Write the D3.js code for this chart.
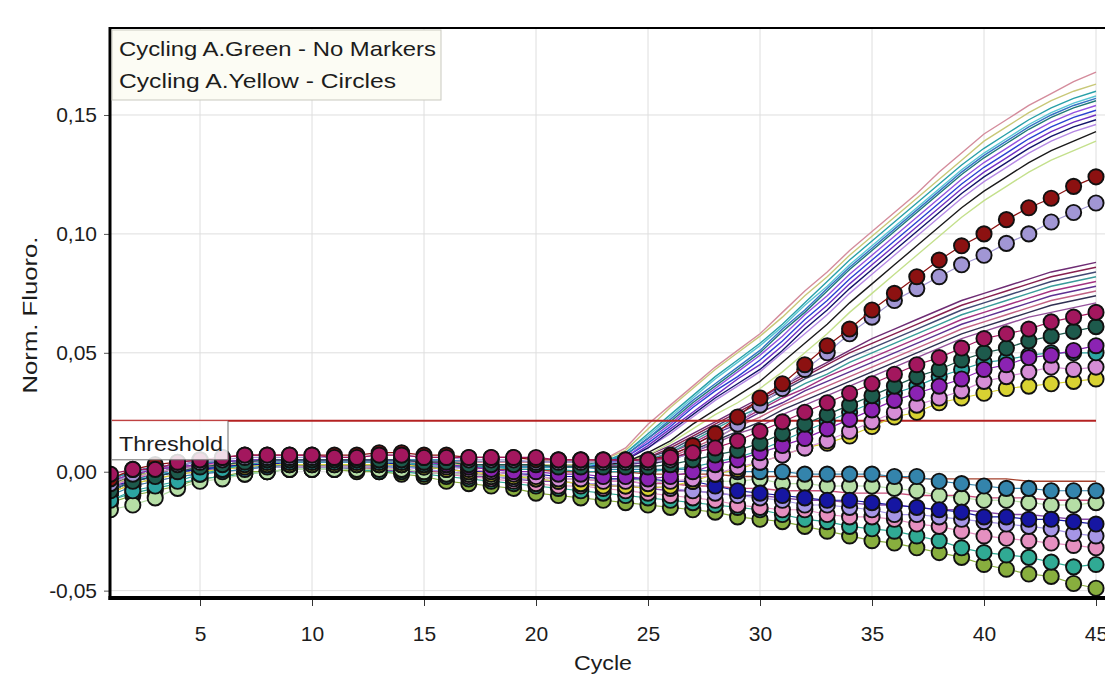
<!DOCTYPE html>
<html><head><meta charset="utf-8">
<script src="https://cdn.jsdelivr.net/npm/d3@7"></script>
<style>
body{margin:0;background:#fff}
svg{display:block}
text{font-family:"Liberation Sans",Arial,sans-serif;fill:#1c1c1c}
</style>
</head><body>
<svg id="chart" width="1105" height="674"></svg>
<script>
// ---------------- DATA ----------------
const cycles = [1,2,3,4,5,6,7,8,9,10,11,12,13,14,15,16,17,18,19,20,21,22,23,24,25,26,27,28,29,30,31,32,33,34,35,36,37,38,39,40,41,42,43,44,45];
const xTicks = [5,10,15,20,25,30,35,40,45];
const yTicks = [-0.05,0,0.05,0.10,0.15];
const yTickLabels = ["-0,05","0,00","0,05","0,10","0,15"];
const thresholdValue = 0.0214;
const legendLabels = ["Cycling A.Green - No Markers","Cycling A.Yellow - Circles"];

// Cycling A.Green (no markers) - upper group
const gUp1 = [-.004,-.001,.001,.002,.003,.003, .004,.004,.004,.004, .004,.004,.004,.004, .004,.004,.004,.004, .004,.004,.004,.004,
  .005,.010,.020,.028,.036,.044,.051,.058,.067,.076,.084,.093,.101,.109,.117,.126,.134,.142,.148,.154,.159,.164,.168];
const gUp2 = [-.006,-.002,.000,.001,.002,.003, .003,.003,.003,.003, .003,.003,.003,.003, .003,.003,.003,.003, .003,.003,.003,.003,
  .005,.009,.018,.027,.035,.043,.050,.057,.065,.074,.082,.091,.099,.107,.115,.123,.131,.139,.145,.151,.156,.160,.163];
const gUp3 = [-.003,.000,.002,.003,.004,.004, .005,.005,.005,.005, .005,.005,.005,.005, .005,.005,.004,.004, .004,.004,.004,.004,
  .004,.008,.016,.024,.032,.040,.047,.054,.062,.071,.080,.089,.097,.105,.113,.121,.129,.136,.142,.148,.153,.157,.160];
const gUp4 = [-.008,-.004,-.001,.000,.001,.002, .002,.002,.002,.002, .002,.002,.002,.002, .002,.002,.002,.002, .002,.002,.002,.002,
  .004,.008,.015,.023,.031,.039,.046,.053,.061,.070,.078,.087,.095,.103,.111,.119,.127,.134,.140,.146,.151,.155,.158];
const gUp5 = [-.004,-.001,.001,.002,.003,.003, .004,.004,.004,.004, .004,.004,.004,.004, .004,.004,.004,.004, .004,.004,.004,.004,
  .004,.007,.014,.022,.030,.037,.044,.051,.060,.068,.077,.086,.094,.102,.110,.118,.126,.133,.139,.145,.150,.154,.157];
const gUp6 = [-.006,-.002,.000,.001,.002,.003, .003,.003,.003,.003, .003,.003,.003,.003, .003,.003,.003,.003, .003,.003,.003,.003,
  .004,.007,.014,.021,.029,.036,.043,.050,.059,.067,.076,.085,.093,.101,.109,.117,.125,.132,.138,.144,.149,.153,.156];
const gUp7 = [-.003,.000,.002,.003,.004,.004, .005,.005,.005,.005, .005,.005,.005,.005, .005,.005,.004,.004, .004,.004,.004,.004,
  .004,.006,.013,.020,.028,.035,.042,.049,.057,.066,.074,.083,.091,.099,.107,.115,.123,.130,.136,.142,.147,.151,.154];
const gUp8 = [-.008,-.004,-.001,.000,.001,.002, .002,.002,.002,.002, .002,.002,.002,.002, .002,.002,.002,.002, .002,.002,.002,.002,
  .003,.006,.012,.019,.027,.034,.040,.047,.055,.064,.072,.081,.089,.097,.105,.113,.121,.128,.134,.140,.145,.149,.152];
const gUp9 = [-.004,-.001,.001,.002,.003,.003, .004,.004,.004,.004, .004,.004,.004,.004, .004,.004,.004,.004, .004,.004,.004,.004,
  .003,.005,.011,.018,.025,.032,.039,.045,.053,.062,.070,.079,.087,.095,.103,.111,.119,.126,.132,.138,.143,.147,.150];
const gUp10 = [-.006,-.002,.000,.001,.002,.003, .003,.003,.003,.003, .003,.003,.003,.003, .003,.003,.003,.003, .003,.003,.003,.003,
  .003,.005,.010,.017,.024,.031,.037,.043,.051,.060,.068,.077,.085,.093,.101,.109,.117,.124,.130,.136,.141,.145,.148];
const gUp11 = [-.003,.000,.002,.003,.004,.004, .005,.005,.005,.005, .005,.005,.005,.005, .005,.005,.004,.004, .004,.004,.004,.004,
  .003,.005,.010,.016,.023,.030,.036,.042,.050,.058,.066,.075,.083,.091,.099,.107,.115,.122,.128,.134,.139,.143,.146];
const gUp12 = [-.008,-.004,-.001,.000,.001,.002, .002,.002,.002,.002, .002,.002,.002,.002, .002,.002,.002,.002, .002,.002,.002,.002,
  .003,.004,.008,.013,.020,.026,.032,.038,.046,.054,.062,.071,.079,.087,.095,.103,.111,.118,.124,.130,.135,.139,.143];
const gUp13 = [-.004,-.001,.001,.002,.003,.003, .004,.004,.004,.004, .004,.004,.004,.004, .004,.004,.004,.004, .004,.004,.004,.004,
  .003,.004,.007,.012,.018,.024,.029,.035,.042,.050,.058,.067,.075,.083,.091,.099,.107,.114,.120,.126,.131,.135,.139];
// Cycling A.Green - middle group
const gMid1 = [-.006,-.002,.000,.001,.002,.003, .003,.003,.003,.003, .003,.003,.003,.003, .003,.003,.003,.003, .003,.003,.003,.003,
  .003,.004,.007,.011,.016,.021,.026,.031,.036,.041,.046,.051,.056,.060,.064,.068,.072,.075,.078,.081,.084,.086,.088];
const gMid2 = [-.003,.000,.002,.003,.004,.004, .005,.005,.005,.005, .005,.005,.005,.005, .005,.005,.004,.004, .004,.004,.004,.004,
  .003,.004,.006,.010,.015,.020,.025,.030,.035,.040,.045,.050,.054,.058,.062,.066,.070,.073,.076,.079,.082,.084,.086];
const gMid3 = [-.008,-.004,-.001,.000,.001,.002, .002,.002,.002,.002, .002,.002,.002,.002, .002,.002,.002,.002, .002,.002,.002,.002,
  .003,.004,.006,.009,.014,.019,.024,.029,.034,.039,.043,.048,.052,.056,.060,.064,.068,.071,.074,.077,.080,.082,.084];
const gMid4 = [-.004,-.001,.001,.002,.003,.003, .004,.004,.004,.004, .004,.004,.004,.004, .004,.004,.004,.004, .004,.004,.004,.004,
  .003,.003,.005,.008,.013,.018,.023,.027,.032,.037,.041,.046,.050,.054,.058,.062,.066,.069,.072,.075,.078,.080,.082];
const gMid5 = [-.006,-.002,.000,.001,.002,.003, .003,.003,.003,.003, .003,.003,.003,.003, .003,.003,.003,.003, .003,.003,.003,.003,
  .002,.003,.005,.008,.012,.017,.021,.026,.031,.035,.040,.044,.048,.052,.056,.060,.064,.067,.070,.073,.076,.078,.080];
const gMid6 = [-.003,.000,.002,.003,.004,.004, .005,.005,.005,.005, .005,.005,.005,.005, .005,.005,.004,.004, .004,.004,.004,.004,
  .002,.003,.004,.007,.011,.016,.020,.025,.029,.034,.038,.042,.046,.050,.054,.058,.062,.065,.068,.071,.074,.076,.078];
const gMid7 = [-.008,-.004,-.001,.000,.001,.002, .002,.002,.002,.002, .002,.002,.002,.002, .002,.002,.002,.002, .002,.002,.002,.002,
  .002,.003,.004,.006,.010,.014,.019,.023,.028,.032,.036,.040,.044,.048,.052,.056,.060,.063,.066,.069,.072,.074,.076];
const gMid8 = [-.004,-.001,.001,.002,.003,.003, .004,.004,.004,.004, .004,.004,.004,.004, .004,.004,.004,.004, .004,.004,.004,.004,
  .002,.002,.003,.005,.009,.013,.017,.021,.026,.030,.034,.038,.042,.046,.050,.054,.058,.061,.064,.067,.070,.072,.074];
const gMid9 = [-.006,-.002,.000,.001,.002,.003, .003,.003,.003,.003, .003,.003,.003,.003, .003,.003,.003,.003, .003,.003,.003,.003,
  .002,.002,.003,.005,.008,.012,.016,.019,.024,.028,.032,.036,.040,.044,.048,.052,.056,.059,.062,.065,.067,.069,.071];
// Cycling A.Green - flat / negative samples
const gNeg1 = [-.005,-.002,.000,.001,.002,.002,.003,.003,.003,.003,.003,.003,.003,.003,.002,.002,.002,.001,.001,.001,.000,.000,.000,.000,
  -.001,-.001,-.001,-.001,-.002,-.002,-.002,-.002,-.002,-.002,-.002,-.002,-.003,-.003,-.003,-.003,-.003,-.004,-.004,-.004,-.004];
const gNeg2 = [-.006,-.003,-.001,.000,.001,.002,.002,.002,.002,.002,.002,.002,.001,.001,.000,.000,-.001,-.001,-.002,-.002,-.003,-.003,-.004,-.004,
  -.005,-.005,-.006,-.006,-.007,-.007,-.008,-.008,-.008,-.009,-.009,-.009,-.010,-.010,-.010,-.011,-.011,-.011,-.012,-.012,-.012];
const gNeg3 = [-.007,-.004,-.002,.000,.001,.001,.002,.002,.002,.002,.002,.001,.001,.000,.000,-.001,-.002,-.002,-.003,-.004,-.004,-.005,-.006,-.006,
  -.007,-.008,-.008,-.009,-.010,-.010,-.011,-.012,-.012,-.013,-.014,-.014,-.015,-.016,-.016,-.017,-.018,-.018,-.019,-.020,-.020];

// Cycling A.Yellow (circles)
const yRed = [-.003,.001,.003,.004,.005,.006,.007,.007,.007,.007,.007,.007,.008,.008,.007,.007,.006,.006,.006,.005,.005,.005,.005,.005,.005,
  .007,.011,.016,.023,.031,.037,.045,.053,.060,.068,.075,.082,.089,.095,.100,.106,.111,.115,.120,.124];
const yLav = [-.005,-.001,.002,.003,.004,.005,.006,.006,.006,.006,.006,.006,.007,.007,.006,.006,.005,.005,.005,.004,.004,.004,.004,.004,.004,
  .005,.008,.013,.020,.028,.035,.043,.050,.058,.065,.072,.077,.082,.087,.091,.096,.100,.105,.109,.113];
const yMag = [-.001,.001,.001,.004,.005,.006,.007,.007,.007,.007,.006,.006,.007,.007,.006,.006,.006,.006,.006,.006,.005,.005,.005,.005,.005,
  .006,.008,.010,.013,.017,.021,.025,.029,.033,.037,.041,.045,.048,.052,.056,.058,.060,.063,.065,.067];
const yDkGreen = [-.008,-.004,-.002,.000,.002,.003,.004,.005,.005,.005,.005,.005,.005,.005,.004,.004,.003,.003,.003,.003,.002,.002,.002,.002,.002,
  .003,.005,.007,.009,.012,.016,.020,.024,.028,.032,.036,.040,.043,.047,.050,.052,.055,.057,.059,.061];
const yTeal = [-.012,-.008,-.006,-.004,-.001,.001,.003,.004,.004,.004,.004,.004,.004,.004,.003,.003,.002,.002,.001,.001,.001,.000,.000,.000,.000,
  .001,.002,.004,.006,.009,.013,.017,.021,.025,.029,.033,.036,.040,.043,.046,.047,.049,.050,.050,.050];
const yPurple = [-.004,-.001,.001,.002,.003,.004,.005,.005,.005,.005,.005,.005,.005,.005,.004,.003,.002,.001,.000,.000,-.001,-.001,-.002,-.002,-.003,
  -.002,.000,.003,.005,.008,.011,.014,.018,.022,.026,.030,.033,.036,.039,.043,.045,.048,.049,.051,.053];
const yPinkV = [-.006,-.003,.000,.001,.002,.003,.004,.004,.004,.004,.004,.004,.004,.004,.003,.002,.001,.000,-.001,-.002,-.003,-.003,-.004,-.004,-.005,
  -.004,-.003,-.001,.002,.004,.007,.010,.013,.017,.021,.025,.028,.031,.034,.038,.040,.042,.044,.043,.044];
const yYellow = [-.009,-.005,-.003,-.001,.000,.001,.002,.003,.003,.003,.003,.003,.003,.003,.002,.001,.000,-.001,-.002,-.003,-.004,-.005,-.006,-.006,-.007,
  -.006,-.004,-.001,.001,.004,.007,.010,.012,.015,.019,.023,.025,.029,.031,.033,.035,.036,.037,.038,.039];
const yBlueTeal = [-.010,-.006,-.004,-.002,-.001,.000,.001,.002,.003,.003,.003,.003,.003,.003,.003,.002,.002,.002,.002,.002,.002,.002,.001,.001,.001,
  .001,.001,.000,.000,.000,.000,-.001,-.001,-.001,-.001,-.002,-.002,-.004,-.005,-.006,-.007,-.007,-.008,-.008,-.008];
const yPaleGreen = [-.016,-.014,-.011,-.007,-.004,-.003,-.001,.000,.001,.001,.001,.001,.001,.001,.000,-.001,-.001,-.002,-.002,-.002,-.003,-.003,-.003,-.003,-.004,
  -.004,-.004,-.004,-.004,-.003,-.005,-.005,-.006,-.006,-.006,-.007,-.008,-.010,-.011,-.012,-.012,-.013,-.014,-.014,-.013];
const yDkBlue = [-.006,-.004,-.002,.000,.001,.002,.003,.003,.004,.004,.004,.004,.004,.003,.002,.001,.000,.000,-.001,-.001,-.002,-.002,-.003,-.003,-.003,
  -.004,-.004,-.006,-.008,-.009,-.010,-.011,-.012,-.012,-.013,-.014,-.015,-.016,-.017,-.019,-.019,-.020,-.020,-.021,-.022];
const yLav2 = [-.007,-.005,-.003,-.001,.000,.001,.002,.003,.003,.003,.003,.003,.003,.002,.001,.000,-.001,-.002,-.003,-.003,-.004,-.005,-.005,-.006,-.006,
  -.007,-.008,-.009,-.010,-.011,-.012,-.014,-.014,-.015,-.016,-.018,-.018,-.019,-.020,-.021,-.022,-.023,-.024,-.026,-.027];
const yPink = [-.008,-.006,-.004,-.002,-.001,.000,.001,.002,.002,.002,.002,.002,.002,.001,.000,-.001,-.002,-.003,-.004,-.005,-.006,-.006,-.007,-.008,-.009,
  -.010,-.011,-.012,-.014,-.015,-.016,-.016,-.018,-.019,-.019,-.020,-.022,-.023,-.025,-.027,-.028,-.029,-.030,-.031,-.032];
const yTeal2 = [-.012,-.009,-.007,-.005,-.003,-.002,-.001,.000,.001,.001,.001,.001,.000,.000,-.001,-.002,-.003,-.004,-.005,-.006,-.007,-.008,-.009,-.010,-.011,
  -.012,-.013,-.014,-.015,-.016,-.018,-.020,-.021,-.023,-.024,-.025,-.027,-.029,-.032,-.034,-.035,-.036,-.038,-.040,-.039];
const yOlive = [-.013,-.010,-.008,-.006,-.003,-.002,.000,.000,.001,.001,.001,.000,.000,-.001,-.002,-.004,-.005,-.006,-.007,-.009,-.010,-.011,-.012,-.013,-.014,
  -.015,-.016,-.017,-.019,-.020,-.021,-.023,-.025,-.027,-.029,-.030,-.032,-.034,-.036,-.039,-.041,-.043,-.044,-.047,-.049];

const greenData = [gNeg1,gNeg2,gNeg3,gMid9,gMid8,gMid7,gMid6,gMid5,gMid4,gMid3,gMid2,gMid1,
  gUp13,gUp12,gUp11,gUp10,gUp9,gUp8,gUp7,gUp6,gUp5,gUp4,gUp3,gUp2,gUp1];
const greenColors = ["#a4402c","#c8507a","#8848a8","#94509a","#303052","#c06284","#5e3090","#a23282","#3a9a9a","#404872","#862050","#6e2c74",
  "#c4e08c","#1a1a1a","#b488e4","#14146a","#7030c4","#2a40d0","#9452e0","#1e7878","#3474c4","#58c4d4","#28a0a8","#c8c878","#d48c9c"];

const yellowData = [yOlive,yTeal2,yPink,yLav2,yPaleGreen,yBlueTeal,yDkBlue,yYellow,yPinkV,yTeal,yPurple,yDkGreen,yLav,yRed,yMag];
const yellowColors = ["#88ae3e","#30aa94","#e590c0","#a696e6","#b6dea6","#3484ac","#1616a2","#d8d232","#d68ed6","#2ca5a2","#8b23b3","#1d5a4c","#a196d4","#8c1111","#a3175e"];

// ---------------- CHART ----------------
const L = 110, T = 27, B = 598, R = 1105;
const svg = d3.select("#chart");
const x = d3.scaleLinear().domain([1,45]).range([110.4,1096]);
const y = d3.scaleLinear().domain([-0.0531,0.187]).range([B,T]);

svg.append("defs").append("clipPath").attr("id","plotclip")
  .append("rect").attr("x",L).attr("y",T).attr("width",R-L).attr("height",B-T);

// grid
const grid = svg.append("g");
grid.selectAll(".gx").data(xTicks).join("line")
  .attr("x1",d=>x(d)).attr("x2",d=>x(d)).attr("y1",T).attr("y2",B)
  .attr("stroke","#dedede").attr("stroke-width",1);
grid.selectAll(".gy").data(yTicks).join("line")
  .attr("x1",L).attr("x2",R).attr("y1",d=>y(d)).attr("y2",d=>y(d))
  .attr("stroke","#dedede").attr("stroke-width",1);

const plot = svg.append("g").attr("clip-path","url(#plotclip)");
const line = d3.line().x((d,i)=>x(cycles[i])).y(d=>y(d));

// green channel lines
plot.append("g").selectAll("path").data(greenData).join("path")
  .attr("d",line).attr("fill","none")
  .attr("stroke",(d,i)=>greenColors[i]).attr("stroke-width",1.4);

// threshold
plot.append("line").attr("x1",L+2).attr("x2",x(45)).attr("y1",y(thresholdValue)).attr("y2",y(thresholdValue))
  .attr("stroke","#b42222").attr("stroke-width",2);

// yellow channel circles
const ys = plot.append("g").selectAll("g").data(yellowData).join("g");
ys.append("path").attr("d",line).attr("fill","none")
  .attr("stroke",(d,i)=>yellowColors[i]).attr("stroke-width",1.2);
ys.each(function(vals,si){
  d3.select(this).selectAll("circle").data(vals).join("circle")
    .attr("cx",(d,i)=>x(cycles[i])).attr("cy",d=>y(d)).attr("r",7.6)
    .attr("fill",yellowColors[si]).attr("stroke","#111").attr("stroke-width",1.9);
});

// threshold label box
const thY = y(thresholdValue);
svg.append("rect").attr("x",L+2).attr("y",thY).attr("width",116).attr("height",39)
  .attr("fill","#fff").attr("fill-opacity",0.85).attr("stroke","none");
svg.append("path").attr("d",`M${L+2},${thY+39}H228V${thY}`).attr("fill","none").attr("stroke","#6b6b6b").attr("stroke-width",1);
svg.append("text").attr("x",119).attr("y",thY+30).attr("font-size",21)
  .attr("textLength",104).attr("lengthAdjust","spacingAndGlyphs").text("Threshold");

// axes
const yAxis = d3.axisLeft(y).tickValues(yTicks).tickFormat((d,i)=>yTickLabels[i]).tickSize(6).tickPadding(7);
const gy = svg.append("g").attr("transform",`translate(${L},0)`).call(yAxis);
gy.select(".domain").remove();
gy.selectAll("text").attr("font-size",21).attr("font-family","Liberation Sans, Arial, sans-serif").attr("fill","#1c1c1c");
gy.selectAll("line").attr("stroke","#555");

const xAxis = d3.axisBottom(x).tickValues(xTicks).tickSize(8).tickPadding(20);
const gx = svg.append("g").attr("transform",`translate(0,${B})`).call(xAxis);
gx.select(".domain").remove();
gx.selectAll("text").attr("font-size",21).attr("font-family","Liberation Sans, Arial, sans-serif").attr("fill","#1c1c1c");
gx.selectAll("line").attr("stroke","#333");

// frame
svg.append("line").attr("x1",L).attr("x2",R).attr("y1",T+1).attr("y2",T+1).attr("stroke","#000").attr("stroke-width",2);
svg.append("line").attr("x1",L).attr("x2",L).attr("y1",T).attr("y2",B+2).attr("stroke","#000").attr("stroke-width",3);
svg.append("line").attr("x1",L-1.5).attr("x2",R).attr("y1",B).attr("y2",B).attr("stroke","#000").attr("stroke-width",4);

// legend
svg.append("rect").attr("x",112).attr("y",30).attr("width",329).attr("height",70)
  .attr("fill","#fcfcf4").attr("stroke","#c9c9c0").attr("stroke-width",1);
const legLen = [317,277];
svg.selectAll(".leg").data(legendLabels).join("text")
  .attr("x",119).attr("y",(d,i)=>56+i*32).attr("font-size",21)
  .attr("textLength",(d,i)=>legLen[i]).attr("lengthAdjust","spacingAndGlyphs").text(d=>d);

// axis titles
svg.append("text").attr("transform","translate(37,315) rotate(-90)").attr("text-anchor","middle")
  .attr("font-size",21).attr("textLength",157).attr("lengthAdjust","spacingAndGlyphs").text("Norm. Fluoro.");
svg.append("text").attr("x",603).attr("y",670).attr("text-anchor","middle").attr("font-size",21)
  .attr("textLength",58).attr("lengthAdjust","spacingAndGlyphs").text("Cycle");
</script>
</body></html>
